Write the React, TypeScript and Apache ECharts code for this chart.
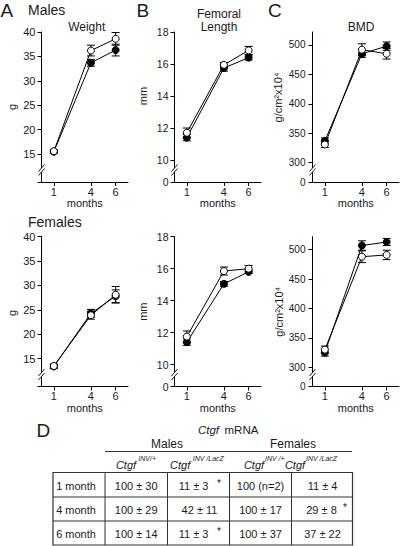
import React, { useEffect, useRef } from "react";
import * as echarts from "echarts";

// ---------- data ----------
const months = [1, 4, 6];
const monthTicks = [1, 4, 6];

const weightTicks = [15, 20, 25, 30, 35, 40];
const femurTicks = [10, 12, 14, 16, 18];
const bmdTicks = [300, 350, 400, 450, 500];

// Males
const maleWeightFilled = [15.5, 33.7, 36.3];
const maleWeightFilledErr = [0.3, 0.7, 1.2];
const maleWeightOpen = [15.6, 36.2, 38.6];
const maleWeightOpenErr = [0.3, 1.1, 1.3];

const maleFemurFilled = [11.4, 15.75, 16.4];
const maleFemurFilledErr = [0.2, 0.2, 0.15];
const maleFemurOpen = [11.7, 15.95, 16.85];
const maleFemurOpenErr = [0.3, 0.15, 0.25];

const maleBmdFilled = [337, 485, 498];
const maleBmdFilledErr = [5, 6, 7];
const maleBmdOpen = [331, 492, 485];
const maleBmdOpenErr = [5, 10, 9];

// Females
const femaleWeightFilled = [13.4, 24.3, 27.8];
const femaleWeightFilledErr = [0.4, 0.8, 1.3];
const femaleWeightOpen = [13.5, 23.9, 28.1];
const femaleWeightOpenErr = [0.4, 0.8, 1.7];

const femaleFemurFilled = [11.4, 15.05, 15.8];
const femaleFemurFilledErr = [0.2, 0.15, 0.1];
const femaleFemurOpen = [11.75, 15.85, 16.0];
const femaleFemurOpenErr = [0.35, 0.25, 0.2];

const femaleBmdFilled = [325, 507, 513];
const femaleBmdFilledErr = [6, 8, 6];
const femaleBmdOpen = [330, 488, 491];
const femaleBmdOpenErr = [6, 10, 8];

// Table D
const tableRows = ["1 month", "4 month", "6 month"];
const maleWt = ["100 ± 30", "100 ± 29", "100 ± 14"];
const maleLacZ = ["11 ± 3", "42 ± 11", "11 ± 3"];
const maleLacZStar = [true, false, true];
const femaleWt = ["100 (n=2)", "100 ± 17", "100 ± 37"];
const femaleLacZ = ["11 ± 4", "29 ± 8", "37 ± 22"];
const femaleLacZStar = [false, true, false];

// ---------- layout / style ----------
const FONT = "'Liberation Sans', Arial, Helvetica, sans-serif";
const INK = "#1a1a1a";
const colX = [41.5, 174.5, 312.5];
const rowTop = [32, 236.7];
const rowBase = [182, 386.5];
const plotW = 86.5;

type Panel = {
  col: number;
  row: number;
  yMin: number;
  yMax: number;
  ticks: number[];
  zeroLabel: boolean;
  labelSize: number;
  labelMargin: number;
  filled: number[];
  filledErr: number[];
  open: number[];
  openErr: number[];
};

const panels: Panel[] = [
  { col: 0, row: 0, yMin: 9.3, yMax: 40, ticks: weightTicks, zeroLabel: false, labelSize: 11, labelMargin: 6,
    filled: maleWeightFilled, filledErr: maleWeightFilledErr, open: maleWeightOpen, openErr: maleWeightOpenErr },
  { col: 1, row: 0, yMin: 8.625, yMax: 18, ticks: femurTicks, zeroLabel: true, labelSize: 10.5, labelMargin: 6,
    filled: maleFemurFilled, filledErr: maleFemurFilledErr, open: maleFemurOpen, openErr: maleFemurOpenErr },
  { col: 2, row: 0, yMin: 267.3, yMax: 522, ticks: bmdTicks, zeroLabel: true, labelSize: 10, labelMargin: 7,
    filled: maleBmdFilled, filledErr: maleBmdFilledErr, open: maleBmdOpen, openErr: maleBmdOpenErr },
  { col: 0, row: 1, yMin: 9.3, yMax: 40, ticks: weightTicks, zeroLabel: false, labelSize: 11, labelMargin: 6,
    filled: femaleWeightFilled, filledErr: femaleWeightFilledErr, open: femaleWeightOpen, openErr: femaleWeightOpenErr },
  { col: 1, row: 1, yMin: 8.625, yMax: 18, ticks: femurTicks, zeroLabel: true, labelSize: 10.5, labelMargin: 6,
    filled: femaleFemurFilled, filledErr: femaleFemurFilledErr, open: femaleFemurOpen, openErr: femaleFemurOpenErr },
  { col: 2, row: 1, yMin: 267.3, yMax: 522, ticks: bmdTicks, zeroLabel: true, labelSize: 10, labelMargin: 7,
    filled: femaleBmdFilled, filledErr: femaleBmdFilledErr, open: femaleBmdOpen, openErr: femaleBmdOpenErr },
];

function txt(text: string, x: number, y: number, size: number, align = "left", extra: any = {}) {
  const { italic, ...rest } = extra;
  return {
    type: "text",
    x,
    y,
    z: 20,
    silent: true,
    ...rest,
    style: {
      text,
      fill: INK,
      font: `${italic ? "italic " : ""}normal ${size}px ${FONT}`,
      textAlign: align,
      align,
      textVerticalAlign: "middle",
      verticalAlign: "middle",
    },
  };
}

function line(x1: number, y1: number, x2: number, y2: number, w = 1, color = INK) {
  return { type: "line", z: 20, silent: true, shape: { x1, y1, x2, y2 }, style: { stroke: color, lineWidth: w } };
}

function errorSeries(idx: number, ys: number[], errs: number[]) {
  return {
    type: "custom",
    xAxisIndex: idx,
    yAxisIndex: idx,
    z: 2,
    clip: false,
    encode: { x: 0, y: 1 },
    data: months.map((m, i) => [m, ys[i], errs[i]]),
    renderItem: (_p: any, api: any) => {
      const x = api.value(0);
      const y = api.value(1);
      const e = api.value(2);
      const t = api.coord([x, y + e]);
      const b = api.coord([x, y - e]);
      const hw = 4;
      const st = { stroke: "#000", lineWidth: 1 };
      return {
        type: "group",
        children: [
          { type: "line", shape: { x1: t[0], y1: t[1], x2: b[0], y2: b[1] }, style: st },
          { type: "line", shape: { x1: t[0] - hw, y1: t[1], x2: t[0] + hw, y2: t[1] }, style: st },
          { type: "line", shape: { x1: b[0] - hw, y1: b[1], x2: b[0] + hw, y2: b[1] }, style: st },
        ],
      };
    },
  };
}

export default function App() {
  const ref = useRef<HTMLDivElement>(null);

  useEffect(() => {
    if (!ref.current) return;
    const chart = echarts.init(ref.current, undefined, { renderer: "svg" });

    const grids: any[] = [];
    const xAxes: any[] = [];
    const yAxes: any[] = [];
    const series: any[] = [];
    const graphics: any[] = [];
    const axisLine = { lineStyle: { color: "#000", width: 1 } };

    panels.forEach((p, i) => {
      const top = rowTop[p.row];
      const base = rowBase[p.row];
      grids.push({ left: colX[p.col], top, width: plotW, height: base - top, containLabel: false });
      xAxes.push({
        gridIndex: i,
        type: "value",
        min: 0,
        max: 7,
        axisLine: { show: true, onZero: false, ...axisLine },
        axisTick: { show: true, length: 4, customValues: monthTicks, lineStyle: { color: "#000" } },
        axisLabel: { customValues: monthTicks, fontSize: 11, color: INK, margin: 4, fontFamily: FONT, fontWeight: "normal" },
        splitLine: { show: false },
      });
      const tickVals = [p.yMin, ...p.ticks];
      yAxes.push({
        gridIndex: i,
        type: "value",
        min: p.yMin,
        max: p.yMax,
        axisLine: { show: true, onZero: false, ...axisLine },
        axisTick: { show: true, length: 4, customValues: tickVals, lineStyle: { color: "#000" } },
        axisLabel: {
          customValues: p.zeroLabel ? tickVals : p.ticks,
          formatter: (v: number) => (v < p.ticks[0] ? "0" : String(v)),
          fontSize: p.labelSize,
          color: INK,
          margin: p.labelMargin,
          fontFamily: FONT,
          fontWeight: "normal",
        },
        splitLine: { show: false },
      });
      series.push(errorSeries(i, p.filled, p.filledErr));
      series.push(errorSeries(i, p.open, p.openErr));
      series.push({
        type: "line",
        xAxisIndex: i,
        yAxisIndex: i,
        z: 3,
        data: months.map((m, k) => [m, p.filled[k]]),
        symbol: "circle",
        symbolSize: 7,
        lineStyle: { color: "#000", width: 1 },
        itemStyle: { color: "#000", borderColor: "#000", borderWidth: 1 },
      });
      series.push({
        type: "line",
        xAxisIndex: i,
        yAxisIndex: i,
        z: 4,
        data: months.map((m, k) => [m, p.open[k]]),
        symbol: "circle",
        symbolSize: 7,
        lineStyle: { color: "#000", width: 1 },
        itemStyle: { color: "#fff", borderColor: "#000", borderWidth: 1 },
      });
      // "months" axis title
      graphics.push(txt("months", colX[p.col] + plotW / 2, base + 21, 11, "center"));
      // axis break marks
      const ax = colX[p.col];
      const yc = base - 12;
      graphics.push({ type: "rect", z: 19, silent: true, shape: { x: ax - 2, y: yc - 2, width: 4, height: 4 }, style: { fill: "#fff" } });
      graphics.push(line(ax - 3, yc - 2 + 3.5, ax + 3, yc - 2 - 3.5));
      graphics.push(line(ax - 3, yc + 2 + 3.5, ax + 3, yc + 2 - 3.5));
    });

    // Panel letters and titles
    graphics.push(txt("A", 0.5, 10, 19));
    graphics.push(txt("Males", 28, 10, 14));
    graphics.push(txt("B", 136.5, 10, 19));
    graphics.push(txt("C", 268, 10, 19));
    graphics.push(txt("Weight", 86.7, 26.7, 12, "center"));
    graphics.push(txt("Femoral", 219, 13.5, 12, "center"));
    graphics.push(txt("Length", 219, 26.7, 12, "center"));
    graphics.push(txt("BMD", 361, 26.7, 12, "center"));
    graphics.push(txt("Females", 28, 221.7, 14));

    // Y-axis names (rotated)
    const rot = { rotation: Math.PI / 2 };
    graphics.push(txt("g", 12, 107, 11, "center", rot));
    graphics.push(txt("mm", 143.3, 96, 11, "center", rot));
    graphics.push(txt("g/cm²x10⁴", 278, 97.5, 11, "center", rot));
    graphics.push(txt("g", 12, 313, 11, "center", rot));
    graphics.push(txt("mm", 143.3, 311.7, 11, "center", rot));
    graphics.push(txt("g/cm²x10⁴", 279, 311.7, 11, "center", rot));

    // Table D
    graphics.push(txt("D", 36.5, 430, 19));
    graphics.push(txt("Ctgf", 219, 430, 11.5, "right", { italic: true }));
    graphics.push(txt("mRNA", 224.5, 430, 11.5, "left"));
    graphics.push(txt("Males", 167, 444, 12, "center"));
    graphics.push(txt("Females", 293, 444, 12, "center"));
    graphics.push(line(105, 451.5, 352, 451.5, 1, "#333"));

    const subMain = [126, 180.2, 254, 295];
    const subSupX = [138.3, 192.7, 265, 306];
    const subSup = ["INV/+", "INV /LacZ", "INV /+", "INV /LacZ"];
    subMain.forEach((cx, k) => {
      graphics.push(txt("Ctgf", cx, 465, 11, "center", { italic: true }));
      graphics.push(txt(subSup[k], subSupX[k], 458.5, 7, "left", { italic: true }));
    });

    const tx = [53, 105, 167.5, 229.5, 291.5, 352.5];
    const ty = [472.5, 497, 521, 545];
    graphics.push({
      type: "rect", z: 18, silent: true,
      shape: { x: tx[0], y: ty[0], width: tx[5] - tx[0], height: ty[3] - ty[0] },
      style: { fill: "none", stroke: "#333", lineWidth: 1.2 },
    });
    for (let c = 1; c < 5; c++) graphics.push(line(tx[c], ty[0], tx[c], ty[3], 1, "#333"));
    for (let r = 1; r < 3; r++) graphics.push(line(tx[0], ty[r], tx[5], ty[r], 1, "#333"));
    const rowC = [485.5, 509.5, 533.8];
    tableRows.forEach((label, r) => {
      const y = rowC[r];
      graphics.push(txt(label, 76, y, 11, "center"));
      graphics.push(txt(maleWt[r], 136.2, y, 11, "center"));
      if (maleLacZStar[r]) {
        graphics.push(txt(maleLacZ[r], 193.5, y, 11, "center"));
        graphics.push(txt("*", 219, y - 2.5, 10, "center"));
      } else {
        graphics.push(txt(maleLacZ[r], 199.5, y, 11, "center"));
      }
      graphics.push(txt(femaleWt[r], 260.5, y, 11, "center"));
      if (femaleLacZStar[r]) {
        graphics.push(txt(femaleLacZ[r], 321.5, y, 11, "center"));
        graphics.push(txt("*", 345, y - 2.5, 10, "center"));
      } else {
        graphics.push(txt(femaleLacZ[r], 322.5, y, 11, "center"));
      }
    });

    chart.setOption({
      animation: false,
      backgroundColor: "#fff",
      textStyle: { fontFamily: FONT, fontWeight: "normal" },
      grid: grids,
      xAxis: xAxes,
      yAxis: yAxes,
      series,
      graphic: { elements: graphics },
    });

    return () => chart.dispose();
  }, []);

  return (
    <div
      ref={ref}
      style={{ position: "absolute", left: 0, top: 0, width: 400, height: 546, background: "#fff" }}
    />
  );
}
